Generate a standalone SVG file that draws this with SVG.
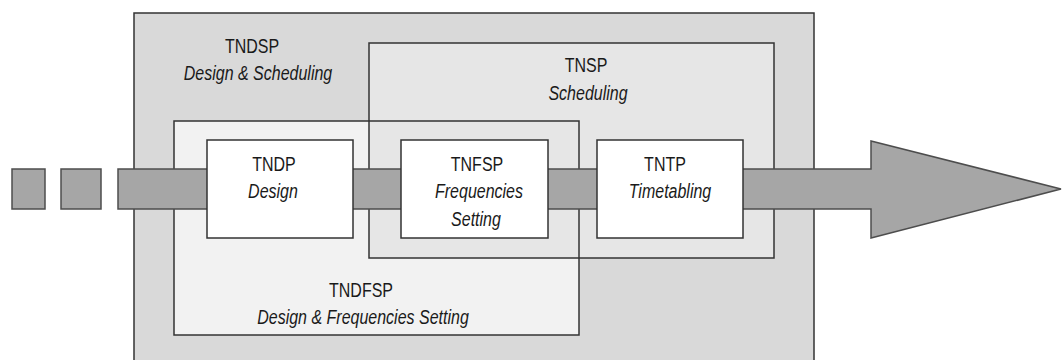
<svg xmlns="http://www.w3.org/2000/svg" width="1062" height="360" viewBox="0 0 1062 360">
  <style>
    .frame { fill: none; stroke: #333333; stroke-width: 1.5; }
    .outer { fill: #d9d9d9; stroke: #333333; stroke-width: 1.5; }
    .proc { fill: #ffffff; stroke: #333333; stroke-width: 1.5; }
    .band { fill: #a6a6a6; stroke: #4d4d4d; stroke-width: 1.5; stroke-linejoin: miter; }
    text { font-family: "Liberation Sans", Arial, sans-serif; font-size: 16px; fill: #1a1a1a; text-anchor: middle; }
    .it { font-style: italic; }
  </style>
  <rect width="1062" height="360" fill="#ffffff"/>

  <g id="TNDSP">
    <rect x="134" y="13" width="680" height="360" class="outer"/>
    <text transform="translate(252,53) scale(1,1.3)">TNDSP</text>
    <text class="it" transform="translate(258,80) scale(1,1.3)">Design &amp; Scheduling</text>
  </g>

  <g id="TNDFSP">
    <rect x="174" y="121" width="405" height="214" fill="#f2f2f2"/>
  </g>
  <g id="TNSP">
    <rect x="369" y="43" width="405" height="215" fill="#e6e6e6"/>
  </g>
  <rect x="174" y="121" width="405" height="214" class="frame"/>
  <rect x="369" y="43" width="405" height="215" class="frame"/>
  <g id="TNSP-label">
    <text transform="translate(586,72) scale(1,1.3)">TNSP</text>
    <text class="it" transform="translate(588,100) scale(1,1.3)">Scheduling</text>
  </g>
  <g id="TNDFSP-label">
    <text transform="translate(361,297) scale(1,1.3)">TNDFSP</text>
    <text class="it" transform="translate(363,324) scale(1,1.3)">Design &amp; Frequencies Setting</text>
  </g>

  <g id="connectors">
    <rect x="12" y="169" width="33" height="40" class="band"/>
    <rect x="61" y="169" width="40" height="40" class="band"/>
    <path d="M118,169 L871,169 L871,141 L1061,189 L871,238 L871,209 L118,209 Z" class="band"/>
  </g>

  <g id="TNDP">
    <rect x="207" y="140" width="146" height="98" class="proc"/>
    <text transform="translate(274,171) scale(1,1.3)">TNDP</text>
    <text class="it" transform="translate(273,198) scale(1,1.3)">Design</text>
  </g>
  <g id="TNFSP">
    <rect x="401" y="140" width="147" height="98" class="proc"/>
    <text transform="translate(477,171) scale(1,1.3)">TNFSP</text>
    <text class="it" transform="translate(479,198) scale(1,1.3)">Frequencies</text>
    <text class="it" transform="translate(476,226) scale(1,1.3)">Setting</text>
  </g>
  <g id="TNTP">
    <rect x="597" y="140" width="146" height="98" class="proc"/>
    <text transform="translate(665,171) scale(1,1.3)">TNTP</text>
    <text class="it" transform="translate(670,198) scale(1,1.3)">Timetabling</text>
  </g>
</svg>
